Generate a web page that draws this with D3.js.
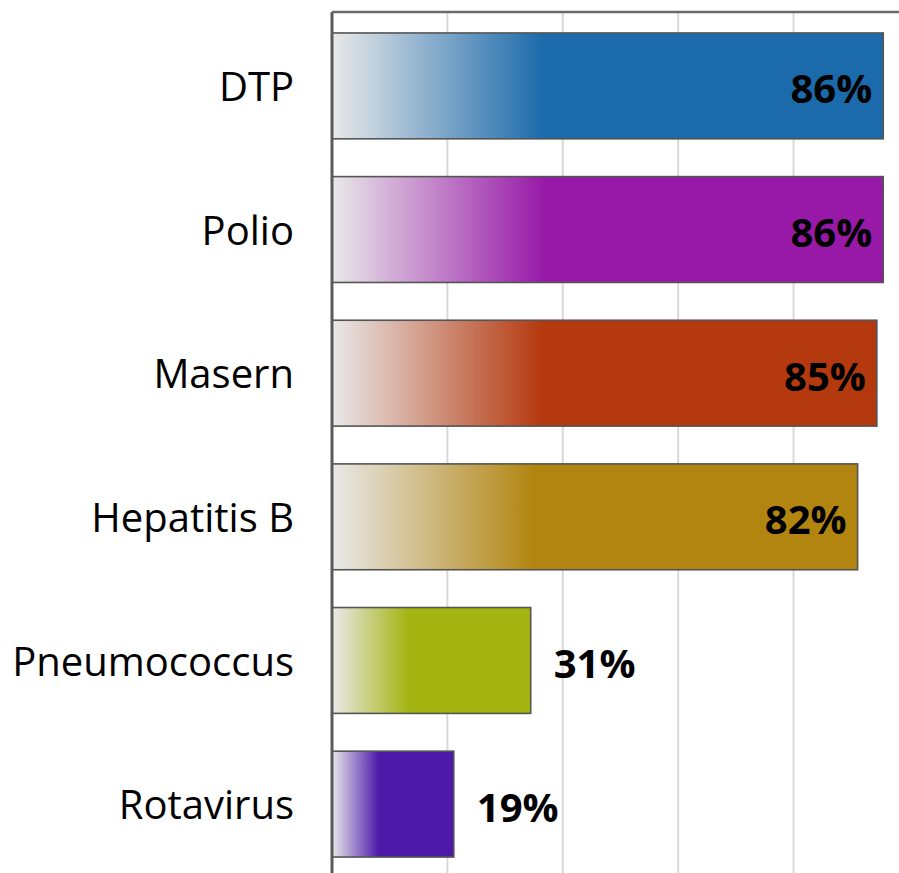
<!DOCTYPE html>
<html>
<head>
<meta charset="utf-8">
<script src="https://cdn.jsdelivr.net/npm/d3@7"></script>
<style>
  body { margin: 0; background: #fff; }
</style>
</head>
<body>
<div id="chart"></div>
<script>
// data
var categories = ["DTP", "Polio", "Masern", "Hepatitis B", "Pneumococcus", "Rotavirus"];
var values = [86, 86, 85, 82, 31, 19];
var colors = ["#1b6aab", "#9819a8", "#b5390f", "#b28510", "#a4b511", "#4c19a9"];
var gridTicks = [18, 36, 54, 72];

// chart parameters
var svgWidth = 899;
var svgHeight = 873;
var axisX = 332;
var topY = 12;

var svg = d3.select("#chart")
    .append("svg")
    .attr("width", svgWidth)
    .attr("height", svgHeight);

var xscale = d3.scaleLinear()
    .domain([0, 100])
    .range([axisX, axisX + 641]);

var yscale = d3.scaleBand()
    .domain(categories)
    .range([15, 875])
    .paddingInner(0.263)
    .paddingOuter(0.125);

// gradients, light grey on the left into the bar colour
var defs = svg.append("defs");
categories.forEach(function (c, i) {
    var g = defs.append("linearGradient")
        .attr("id", "grad" + i)
        .attr("x1", "0").attr("x2", "1")
        .attr("y1", "0").attr("y2", "0");
    g.append("stop").attr("offset", "0").attr("stop-color", "#e9e9e9");
    g.append("stop").attr("offset", "0.385").attr("stop-color", colors[i]);
    g.append("stop").attr("offset", "1").attr("stop-color", colors[i]);
});

// gridlines
svg.append("g")
    .selectAll("line")
    .data(gridTicks)
    .enter()
    .append("line")
    .attr("x1", d => xscale(d))
    .attr("x2", d => xscale(d))
    .attr("y1", topY)
    .attr("y2", svgHeight)
    .attr("stroke", "#d9d9d9")
    .attr("stroke-width", 2);

// top border
svg.append("line")
    .attr("x1", axisX)
    .attr("x2", svgWidth)
    .attr("y1", topY)
    .attr("y2", topY)
    .attr("stroke", "#6b6b6b")
    .attr("stroke-width", 2.5);

// bars
svg.append("g")
    .selectAll("rect")
    .data(values)
    .enter()
    .append("rect")
    .attr("x", xscale(0))
    .attr("y", (d, i) => yscale(categories[i]))
    .attr("width", d => xscale(d) - xscale(0))
    .attr("height", yscale.bandwidth())
    .attr("fill", (d, i) => "url(#grad" + i + ")")
    .attr("stroke", "#555")
    .attr("stroke-width", 1.6);

// left axis
var leftAxis = d3.axisLeft(yscale).tickSize(0).tickPadding(38);
var axisG = svg.append("g")
    .attr("transform", `translate(${axisX}, 0)`)
    .call(leftAxis);
axisG.select(".domain").remove();
axisG.selectAll("text")
    .style("font-family", "'Open Sans', sans-serif")
    .style("font-size", "40px")
    .attr("fill", "#000")
    .attr("dy", "0.38em");

svg.append("line")
    .attr("x1", axisX)
    .attr("x2", axisX)
    .attr("y1", topY)
    .attr("y2", svgHeight)
    .attr("stroke", "#5a5a5a")
    .attr("stroke-width", 3);

// value labels
svg.append("g")
    .selectAll("text")
    .data(values)
    .enter()
    .append("text")
    .attr("x", d => d > 50 ? xscale(d) - 11 : xscale(d) + 23)
    .attr("y", (d, i) => yscale(categories[i]) + yscale.bandwidth() / 2 + 3)
    .attr("dy", "0.36em")
    .style("text-anchor", d => d > 50 ? "end" : "start")
    .style("font-family", "'Open Sans', sans-serif")
    .style("font-weight", "bold")
    .style("font-size", "40px")
    .style("fill", "#000")
    .text(d => d + "%");
</script>
</body>
</html>
